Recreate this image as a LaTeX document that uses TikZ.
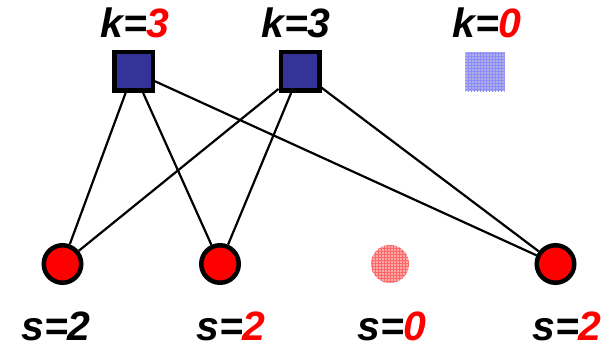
\documentclass[tikz,border=0pt]{standalone}
\usepackage{fontspec}
\setmainfont{Liberation Sans}
\usetikzlibrary{patterns}
\definecolor{sqblue}{RGB}{51,51,153}
\definecolor{fadeblue}{RGB}{175,175,225}
\definecolor{fadered}{RGB}{250,170,170}
\begin{document}
\begin{tikzpicture}[x=1pt,y=-1pt,
  sq/.style={draw=black,line width=4.5pt,fill=sqblue,minimum size=38.5pt,inner sep=0pt},
  fsq/.style={fill=fadeblue,minimum size=39pt,inner sep=0pt},
  ci/.style={circle,draw=black,line width=4.5pt,fill=red,minimum size=37.5pt,inner sep=0pt},
  fci/.style={circle,fill=fadered,minimum size=38pt,inner sep=0pt},
  lab/.style={font=\fontsize{41}{45}\selectfont\bfseries\itshape,inner sep=0pt,anchor=base},
  edge/.style={line width=2.2pt,black}]
\useasboundingbox (0,0) rectangle (615,350);
\fill[white] (0,0) rectangle (615,350);
\node[sq] (a) at (133.5,71.5) {};
\node[sq] (b) at (300,71.5) {};
\node[fsq] (c) at (485,72) {};
\fill[pattern=grid,pattern color=blue!45] (c.north west) rectangle (c.south east);
\node[ci] (p) at (62.5,264) {};
\node[ci] (q) at (220,264) {};
\node[fci] (r) at (390,264) {};
\fill[pattern=grid,pattern color=red!60] (r) circle (19);
\node[ci] (t) at (555.5,264) {};
\draw[edge] (a) -- (p);
\draw[edge] (a) -- (q);
\draw[edge] (a) -- (t);
\draw[edge] (b) -- (p);
\draw[edge] (b) -- (q);
\draw[edge] (b) -- (t);
\node[lab] (ka) at (135,38) {k=\textcolor{red}{3}};
\node[lab] (kb) at (296,38) {k=3};
\node[lab] (kc) at (487,38) {k=\textcolor{red}{0}};
\node[lab] (sp) at (56,340.5) {s=2};
\node[lab] (sq) at (231,340.5) {s=\textcolor{red}{2}};
\node[lab] (sr) at (392,340.5) {s=\textcolor{red}{0}};
\node[lab] (st) at (567,340.5) {s=\textcolor{red}{2}};
\end{tikzpicture}
\end{document}
